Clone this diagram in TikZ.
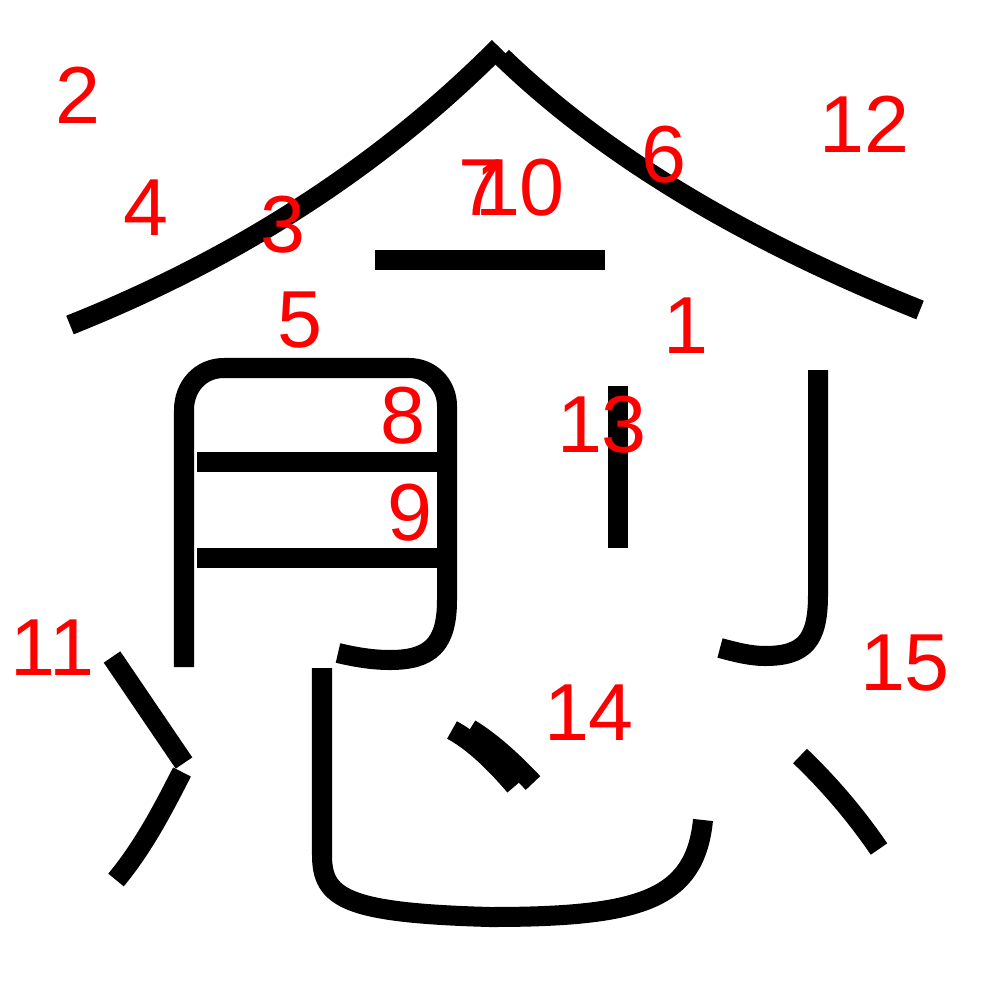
\documentclass[tikz,border=0pt]{standalone}
\usepackage{fontspec}
\setmainfont{Liberation Sans}
\begin{document}
\begin{tikzpicture}[x=0.01cm,y=-0.01cm,
  stroke/.style={line width=0.2cm, line cap=butt, line join=round, draw=black},
  num/.style={text=red, font=\fontsize{23}{27}\selectfont, inner sep=0pt, anchor=base}]
\useasboundingbox[fill=white] (0,0) rectangle (1000,1000);
% roof
\draw[stroke] (70,325) .. controls (238.7,257.7) and (381.7,165) .. (499,47);
\draw[stroke] (502,57) .. controls (602.7,154.3) and (742,238.7) .. (920,310);
% short bar
\draw[stroke] (375,260) -- (605,260);
% moon-like frame
\draw[stroke] (184,667) -- (184,410) .. controls (184,387) and (200,368) .. (224,368) -- (409,368)
  .. controls (431,368) and (447,385) .. (447,406) -- (447,600)
  .. controls (447,645) and (430,660) .. (390,660) .. controls (372,660) and (355,657) .. (338,653);
\draw[stroke] (197,462) -- (438,462);
\draw[stroke] (197,558) -- (438,558);
% vertical 13
\draw[stroke] (618,386) -- (618,548);
% right hook
\draw[stroke] (818,370) -- (818,595) .. controls (818,640) and (805,656) .. (765,656)
  .. controls (750,656) and (735,652) .. (720,648);
% left strokes (11)
\draw[stroke] (112,657) -- (184,763);
\draw[stroke] (182,772) .. controls (165,805) and (145,845) .. (116,880);
% big bottom hook
\draw[stroke] (322,668) -- (322,855) .. controls (322,898) and (345,913) .. (490,917)
  .. controls (640,917) and (695,900) .. (703,820);
% 14 dots
\draw[stroke] (452,730) .. controls (470.7,740) and (491.7,758.7) .. (515,786);
\draw[stroke] (470,729) .. controls (488.7,740.3) and (509.7,758.3) .. (533,783);
% 15
\draw[stroke] (800,756) .. controls (829.3,784) and (855.7,815) .. (879,849);
% labels
\node[num] (n1) at (686,353) {1};
\node[num] (n2) at (78,123) {2};
\node[num] (n3) at (283,252) {3};
\node[num] (n4) at (146,235) {4};
\node[num] (n5) at (300,347) {5};
\node[num] (n6) at (664,182) {6};
\node[num] (n7) at (481,215) {7};
\node[num] (n10) at (520,215) {10};
\node[num] (n8) at (403,443) {8};
\node[num] (n9) at (410,540) {9};
\node[num] (n11) at (52,675) {11};
\node[num] (n12) at (864,152) {12};
\node[num] (n13) at (602,452) {13};
\node[num] (n14) at (589,740) {14};
\node[num] (n15) at (905,690) {15};
\end{tikzpicture}
\end{document}
